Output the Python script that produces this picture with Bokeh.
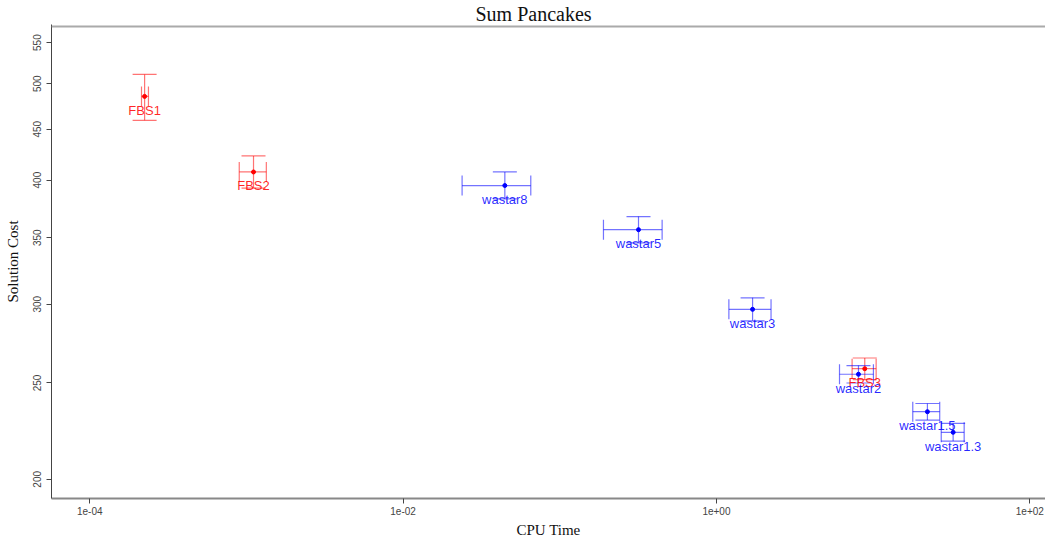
from bokeh.plotting import figure
from bokeh.models import (ColumnDataSource, Range1d, Whisker, TeeHead, FixedTicker,
                          CustomJSTickFormatter, Span)
from bokeh.core.properties import value
from bokeh.embed import file_html
from bokeh.resources import INLINE

# ---- data ----
labels   = ["FBS1", "FBS2", "wastar8", "wastar5", "wastar3", "FBS3", "wastar2", "wastar1.5", "wastar1.3"]
family   = ["FBS", "FBS", "wastar", "wastar", "wastar", "FBS", "wastar", "wastar", "wastar"]
cpu_time = [2.24e-4, 1.11e-3, 0.0446, 0.318, 1.70, 8.84, 8.06, 22.2, 32.4]
cpu_lo   = [2.14e-4, 9.0e-4, 0.0238, 0.190, 1.20, 7.34, 6.10, 17.9, 27.2]
cpu_hi   = [2.37e-4, 1.34e-3, 0.0653, 0.450, 2.23, 10.45, 10.04, 26.6, 38.1]
cost     = [485.6, 407.6, 395.0, 356.6, 296.5, 258.4, 255.1, 233.9, 223.0]
cost_lo  = [459.4, 392.7, 382.9, 345.9, 288.7, 251.9, 250.0, 229.4, 218.5]
cost_hi  = [511.0, 423.0, 407.6, 367.6, 304.5, 264.9, 260.3, 238.4, 227.7]

x_ticks = [1e-4, 1e-2, 1e0, 1e2]
y_ticks = [200, 250, 300, 350, 400, 450, 500, 550]

colors = {"FBS": "#ff0000", "wastar": "#0000ff"}

p = figure(width=1045, height=540, x_axis_type="log", y_axis_type="log",
           x_range=Range1d(10 ** -4.244, 10 ** 2.100), y_range=Range1d(191.3, 573.6),
           output_backend="svg", toolbar_location=None,
           min_border_left=51, min_border_top=0, min_border_bottom=20, min_border_right=0,
           title="Sum Pancakes")

p.title.text_font = "Liberation Serif"
p.title.text_font_size = "20px"
p.title.text_font_style = "normal"
p.title.text_color = "#111111"
p.title.align = "left"
p.title.offset = 424
p.title.standoff = 0

p.xgrid.grid_line_color = None
p.ygrid.grid_line_color = None
p.outline_line_color = None
p.background_fill_color = "white"
p.border_fill_color = "white"

p.add_layout(Span(location=571.0, dimension="width", line_color="#aaaaaa", line_width=2))

for fam in ["FBS", "wastar"]:
    idx = [i for i, f in enumerate(family) if f == fam]
    src = ColumnDataSource(dict(
        x=[cpu_time[i] for i in idx], xlo=[cpu_lo[i] for i in idx], xhi=[cpu_hi[i] for i in idx],
        y=[cost[i] for i in idx], ylo=[cost_lo[i] for i in idx], yhi=[cost_hi[i] for i in idx],
        label=[labels[i] for i in idx]))
    c = colors[fam]
    vw = Whisker(source=src, base="x", lower="ylo", upper="yhi", dimension="height",
                 line_color=c, line_alpha=0.55, line_width=1.2,
                 upper_head=TeeHead(size=24, line_color=c, line_alpha=0.55, line_width=1.2),
                 lower_head=TeeHead(size=24, line_color=c, line_alpha=0.55, line_width=1.2))
    hw = Whisker(source=src, base="y", lower="xlo", upper="xhi", dimension="width",
                 line_color=c, line_alpha=0.55, line_width=1.2,
                 upper_head=TeeHead(size=20, line_color=c, line_alpha=0.55, line_width=1.2),
                 lower_head=TeeHead(size=20, line_color=c, line_alpha=0.55, line_width=1.2))
    p.add_layout(vw)
    p.add_layout(hw)
    p.scatter("x", "y", source=src, size=4, color=c)
    p.text("x", "y", text="label", source=src, text_align="center", text_baseline="middle",
           y_offset=14, text_font=value("Liberation Sans"), text_font_size="13px",
           text_color=c, text_alpha=0.85)

# axes
p.xaxis.ticker = FixedTicker(ticks=x_ticks)
p.xaxis.formatter = CustomJSTickFormatter(code="""
const e = Math.round(Math.log10(tick));
const s = e < 0 ? '-' : '+';
const a = Math.abs(e);
return '1e' + s + (a < 10 ? '0' + a : '' + a);
""")
p.yaxis.ticker = FixedTicker(ticks=y_ticks)
p.yaxis.formatter = CustomJSTickFormatter(code="return tick.toFixed(0);")
p.yaxis.major_label_orientation = "vertical"

for ax in (p.xaxis[0], p.yaxis[0]):
    ax.major_tick_out = 5
    ax.major_tick_in = 0
    ax.minor_tick_line_color = None
    ax.major_tick_line_color = "#444444"
    ax.major_label_text_font = "Liberation Sans"
    ax.major_label_text_font_size = "10px"
    ax.major_label_text_color = "#444444"
    ax.axis_label_text_font = "Liberation Serif"
    ax.axis_label_text_font_size = "15px"
    ax.axis_label_text_font_style = "normal"
    ax.axis_label_text_color = "#111111"

p.xaxis.axis_label = "CPU Time"
p.yaxis.axis_label = "Solution Cost"
p.xaxis.axis_line_color = "#888888"
p.xaxis.axis_line_width = 2
p.yaxis.axis_line_color = "#444444"
p.yaxis.axis_line_width = 1
p.xaxis.major_label_standoff = 3
p.xaxis.axis_label_standoff = 4
p.yaxis.axis_label_standoff = 10

open("out.html", "w").write(file_html(p, INLINE))
